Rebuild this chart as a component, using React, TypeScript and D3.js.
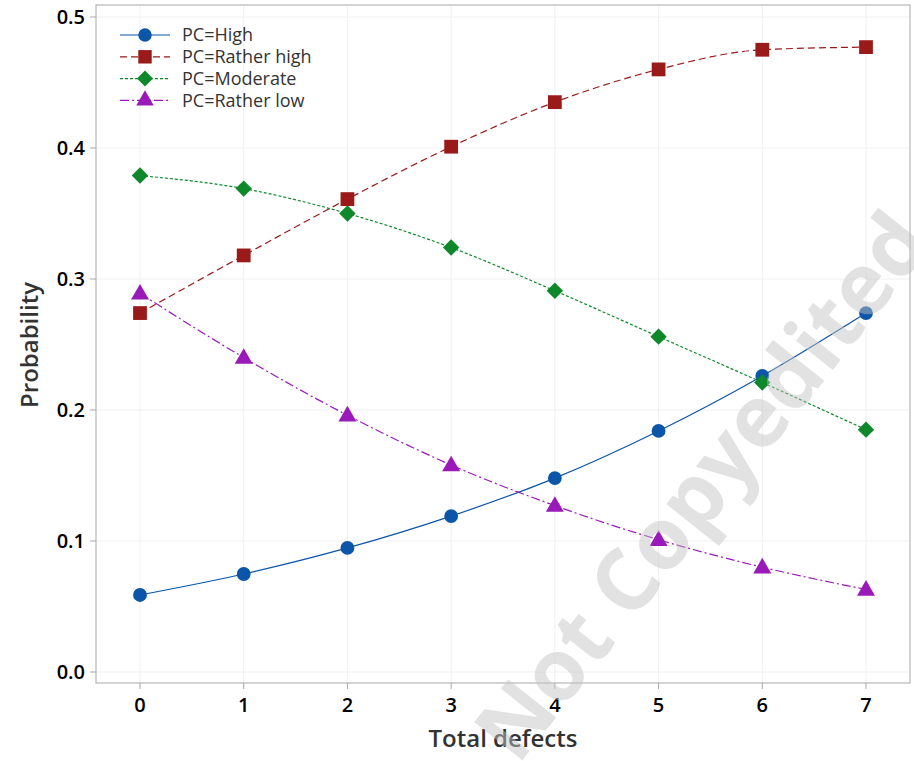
import React, { useEffect, useRef } from 'react'
import * as d3 from 'd3'

const defects = [0, 1, 2, 3, 4, 5, 6, 7]
const high = [0.0588, 0.0748, 0.0947, 0.119, 0.148, 0.184, 0.226, 0.274]
const ratherHigh = [0.274, 0.318, 0.361, 0.401, 0.435, 0.46, 0.475, 0.477]
const moderate = [0.379, 0.369, 0.35, 0.324, 0.291, 0.256, 0.221, 0.185]
const ratherLow = [0.289, 0.24, 0.196, 0.158, 0.127, 0.101, 0.08, 0.063]
const yTicks = [0, 0.1, 0.2, 0.3, 0.4, 0.5]

const series = [
  { name: 'PC=High', values: high, color: '#0b56a8', dash: null, symbol: d3.symbolCircle, size: 150, rot: 0 },
  { name: 'PC=Rather high', values: ratherHigh, color: '#9a1a1a', dash: '7,4', symbol: d3.symbolSquare, size: 190, rot: 0 },
  { name: 'PC=Moderate', values: moderate, color: '#0d882b', dash: '3,2', symbol: d3.symbolSquare, size: 135, rot: 45 },
  { name: 'PC=Rather low', values: ratherLow, color: '#9a1ab9', dash: '9,3,2,3', symbol: d3.symbolTriangle, size: 140, rot: 0 },
]

const W = 914
const H = 761
const font = '"Open Sans", "Noto Sans", sans-serif'

const App = () => {
  const ref = useRef<SVGSVGElement>(null)

  useEffect(() => {
    const svg = d3.select(ref.current)
    svg.selectAll('*').remove()

    const frame = { left: 96, right: 910, top: 5, bottom: 683 }
    const x = d3.scaleLinear().domain([0, 7]).range([140, 866])
    const y = d3.scaleLinear().domain([0, 0.5]).range([672, 17])

    svg.append('rect').attr('width', W).attr('height', H).attr('fill', '#fff')

    // grid
    svg
      .append('g')
      .selectAll('line')
      .data(defects)
      .join('line')
      .attr('x1', d => x(d))
      .attr('x2', d => x(d))
      .attr('y1', frame.top)
      .attr('y2', frame.bottom)
      .attr('stroke', '#f0f0f0')
    svg
      .append('g')
      .selectAll('line')
      .data(yTicks)
      .join('line')
      .attr('x1', frame.left)
      .attr('x2', frame.right)
      .attr('y1', d => y(d))
      .attr('y2', d => y(d))
      .attr('stroke', '#f0f0f0')

    // frame
    svg
      .append('rect')
      .attr('x', frame.left)
      .attr('y', frame.top)
      .attr('width', frame.right - frame.left)
      .attr('height', frame.bottom - frame.top)
      .attr('fill', 'none')
      .attr('stroke', '#a8a8a8')

    svg // yaxis
      .append('g')
      .selectAll('g')
      .data(yTicks)
      .join('g')
      .each(function (d) {
        const g = d3.select(this)
        g.append('line').attr('x1', frame.left - 6).attr('x2', frame.left).attr('y1', y(d)).attr('y2', y(d)).attr('stroke', '#a8a8a8')
        g.append('text')
          .text(d3.format('.1f')(d))
          .attr('x', 85)
          .attr('y', y(d))
          .attr('dy', '0.35em')
          .attr('text-anchor', 'end')
          .attr('font-family', font)
          .attr('font-weight', 600)
          .attr('font-size', '20px')
          .attr('fill', '#000')
      })

    svg // xaxis
      .append('g')
      .selectAll('g')
      .data(defects)
      .join('g')
      .each(function (d) {
        const g = d3.select(this)
        g.append('line').attr('x1', x(d)).attr('x2', x(d)).attr('y1', frame.bottom).attr('y2', frame.bottom + 6).attr('stroke', '#a8a8a8')
        g.append('text')
          .text(d)
          .attr('x', x(d))
          .attr('y', 712)
          .attr('text-anchor', 'middle')
          .attr('font-family', font)
          .attr('font-weight', 600)
          .attr('font-size', '20px')
          .attr('fill', '#000')
      })

    svg // xlab
      .append('text')
      .text('Total defects')
      .attr('x', 503)
      .attr('y', 747)
      .attr('text-anchor', 'middle')
      .attr('font-family', font)
      .attr('font-weight', 600)
      .attr('font-size', '24px')
      .attr('fill', '#333')

    svg // ylab
      .append('text')
      .text('Probability')
      .attr('transform', 'rotate(-90)')
      .attr('x', -345)
      .attr('y', 38)
      .attr('text-anchor', 'middle')
      .attr('font-family', font)
      .attr('font-weight', 600)
      .attr('font-size', '24px')
      .attr('fill', '#333')

    const line = d3
      .line<number>()
      .x((_, i) => x(defects[i]))
      .y(d => y(d))
      .curve(d3.curveMonotoneX)

    series.forEach(s => {
      svg
        .append('path')
        .attr('d', line(s.values))
        .attr('fill', 'none')
        .attr('stroke', s.color)
        .attr('stroke-width', 1.2)
        .attr('stroke-dasharray', s.dash)
      svg
        .append('g')
        .selectAll('path')
        .data(s.values)
        .join('path')
        .attr('d', d3.symbol().type(s.symbol).size(s.size))
        .attr('transform', (d, i) => `translate(${x(defects[i])},${y(d) + (s.symbol === d3.symbolTriangle ? 1 : 0)}) rotate(${s.rot})`)
        .attr('fill', s.color)
    })

    // legend
    const legend = svg.append('g')
    series.forEach((s, i) => {
      const ly = 35 + i * 21.8
      legend
        .append('line')
        .attr('x1', 120)
        .attr('x2', 170)
        .attr('y1', ly)
        .attr('y2', ly)
        .attr('stroke', s.color)
        .attr('stroke-width', 1.2)
        .attr('stroke-dasharray', s.dash)
      legend
        .append('path')
        .attr('d', d3.symbol().type(s.symbol).size(s.size * 0.95))
        .attr('transform', `translate(145,${ly}) rotate(${s.rot})`)
        .attr('fill', s.color)
      legend
        .append('text')
        .text(s.name)
        .attr('x', 182)
        .attr('y', ly)
        .attr('dy', '0.35em')
        .attr('font-family', font)
        .attr('font-size', '18px')
        .attr('fill', '#333')
    })

    // watermark
    svg
      .append('text')
      .text('Not Copyedited')
      .attr('transform', 'translate(702,486) rotate(-51.5)')
      .attr('text-anchor', 'middle')
      .attr('dy', '0.35em')
      .attr('font-family', font)
      .attr('font-weight', 700)
      .attr('font-size', '86px')
      .attr('fill', '#c4c4c4')
      .attr('opacity', 0.48)
  }, [])

  return <svg ref={ref} width={W} height={H} style={{ position: 'absolute', left: 0, top: 0 }} />
}

export default App
